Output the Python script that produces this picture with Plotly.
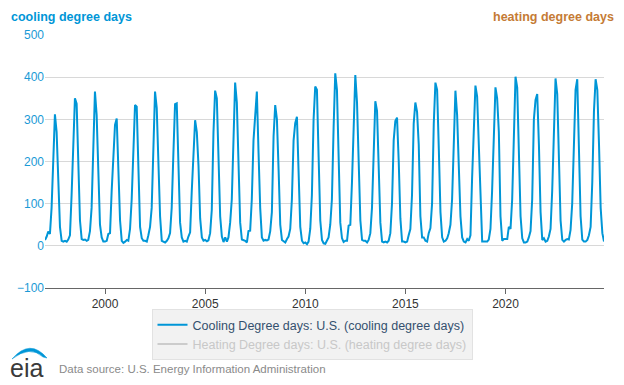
import pandas as pd
import plotly.graph_objects as go

# Monthly U.S. cooling degree days (Jan..Dec)
cdd_1997 = [14, 22, 34, 28, 90, 220, 312, 270, 150, 45, 12, 10]
cdd_1998 = [12, 10, 15, 25, 120, 250, 350, 337, 220, 60, 16, 14]
cdd_1999 = [15, 12, 14, 35, 90, 230, 366, 310, 170, 50, 20, 10]
cdd_2000 = [10, 12, 28, 30, 130, 230, 287, 302, 180, 60, 12, 7]
cdd_2001 = [10, 14, 12, 40, 110, 240, 334, 330, 160, 45, 18, 12]
cdd_2002 = [12, 10, 25, 45, 90, 260, 366, 327, 210, 70, 12, 9]
cdd_2003 = [8, 12, 18, 30, 90, 220, 336, 338, 170, 55, 20, 10]
cdd_2004 = [12, 10, 22, 32, 130, 230, 298, 270, 190, 65, 20, 12]
cdd_2005 = [14, 11, 13, 30, 85, 270, 368, 350, 230, 70, 22, 9]
cdd_2006 = [20, 10, 20, 55, 110, 260, 387, 340, 160, 55, 15, 14]
cdd_2007 = [12, 8, 35, 36, 110, 250, 320, 366, 220, 90, 20, 12]
cdd_2008 = [14, 13, 15, 35, 80, 260, 334, 300, 180, 50, 14, 10]
cdd_2009 = [8, 16, 22, 40, 110, 250, 291, 306, 170, 45, 12, 6]
cdd_2010 = [8, 4, 10, 40, 120, 300, 378, 370, 210, 60, 14, 6]
cdd_2011 = [5, 12, 20, 50, 110, 280, 409, 370, 190, 55, 18, 9]
cdd_2012 = [12, 12, 48, 50, 150, 270, 405, 340, 200, 60, 14, 12]
cdd_2013 = [12, 8, 14, 30, 90, 250, 343, 320, 210, 55, 10, 8]
cdd_2014 = [10, 8, 12, 30, 100, 250, 296, 304, 200, 65, 10, 10]
cdd_2015 = [8, 10, 25, 40, 120, 290, 340, 318, 240, 70, 20, 20]
cdd_2016 = [12, 10, 30, 42, 100, 290, 387, 370, 230, 80, 20, 10]
cdd_2017 = [12, 18, 30, 50, 110, 260, 368, 310, 200, 70, 20, 10]
cdd_2018 = [8, 16, 12, 25, 160, 300, 380, 354, 240, 80, 10, 10]
cdd_2019 = [10, 10, 15, 40, 130, 240, 376, 350, 270, 70, 12, 16]
cdd_2020 = [16, 16, 45, 40, 110, 270, 401, 375, 220, 70, 18, 8]
cdd_2021 = [8, 10, 20, 35, 110, 300, 346, 360, 240, 80, 14, 18]
cdd_2022 = [10, 12, 22, 40, 130, 300, 397, 360, 230, 60, 14, 10]
cdd_2023 = [14, 16, 15, 38, 100, 230, 370, 395, 260, 70, 15, 10]
cdd_2024 = [10, 14, 25, 45, 150, 320, 395, 370, 240, 90, 30, 10]

cooling_values = (cdd_1997 + cdd_1998 + cdd_1999 + cdd_2000 + cdd_2001 + cdd_2002 + cdd_2003
                  + cdd_2004 + cdd_2005 + cdd_2006 + cdd_2007 + cdd_2008 + cdd_2009 + cdd_2010
                  + cdd_2011 + cdd_2012 + cdd_2013 + cdd_2014 + cdd_2015 + cdd_2016 + cdd_2017
                  + cdd_2018 + cdd_2019 + cdd_2020 + cdd_2021 + cdd_2022 + cdd_2023 + cdd_2024)
months = pd.date_range("1997-01-01", periods=len(cooling_values), freq="MS")

x_tick_years = ["2000", "2005", "2010", "2015", "2020"]
y_tick_values = [-100, 0, 100, 200, 300, 400, 500]

W, H = 624, 385
L, R, T, B = 45, 20, 35, 97
PW, PH = W - L - R, H - T - B


def px(xp):
    return (xp - L) / PW


def py(yp):
    return (H - B - yp) / PH


BLUE = "#0096d7"
FONT = "Arial, Liberation Sans, sans-serif"

fig = go.Figure()
fig.add_trace(go.Scatter(
    x=months, y=cooling_values, mode="lines",
    line=dict(color=BLUE, width=2),
    name="Cooling Degree days: U.S. (cooling degree days)",
))
# heating series is switched off in the reference: only its legend entry shows
fig.add_trace(go.Scatter(
    x=[months[0]], y=[None], mode="lines",
    line=dict(color="#cccccc", width=2),
    name="<span style='color:#c8c8c8'>Heating Degree days: U.S. (heating degree days)</span>",
    hoverinfo="skip",
))

fig.update_layout(
    width=W, height=H,
    margin=dict(l=L, r=R, t=T, b=B),
    paper_bgcolor="white", plot_bgcolor="white",
    font=dict(family=FONT, size=12, color="#333333"),
    showlegend=True,
    legend=dict(
        x=px(312), xanchor="center", y=py(309), yanchor="top",
        bgcolor="#f2f2f2", bordercolor="#e2e2e2", borderwidth=1,
        font=dict(family=FONT, size=12.5, color="#34506e"),
        tracegroupgap=0, itemwidth=30,
    ),
    xaxis=dict(
        range=[months[0], months[-1]],
        tickvals=[pd.Timestamp(y + "-01-01") for y in x_tick_years],
        ticktext=x_tick_years,
        showgrid=False, zeroline=False,
        showline=True, linecolor="#666666", linewidth=1,
        ticks="outside", ticklen=5, tickcolor="#666666",
        tickfont=dict(family=FONT, size=12, color="#333333"),
    ),
    yaxis=dict(
        range=[-100, 500],
        tickvals=y_tick_values,
        showgrid=True, gridcolor="#d8d8d8", gridwidth=1.3,
        zeroline=False, showline=False, ticks="",
        tickfont=dict(family=FONT, size=12, color="#1a9ad6"),
    ),
)

fig.add_annotation(text="<b>cooling degree days</b>", xref="paper", yref="paper",
                   x=px(9), y=py(17), xanchor="left", yanchor="middle", showarrow=False,
                   font=dict(family=FONT, size=12.5, color=BLUE))
fig.add_annotation(text="<b>heating degree days</b>", xref="paper", yref="paper",
                   x=px(616), y=py(17), xanchor="right", yanchor="middle", showarrow=False,
                   font=dict(family=FONT, size=12.5, color="#c57b35"))
fig.add_annotation(text="Data source: U.S. Energy Information Administration", xref="paper", yref="paper",
                   x=px(57), y=py(369), xanchor="left", yanchor="middle", showarrow=False,
                   font=dict(family=FONT, size=11.5, color="#8a8a8a"))
fig.add_annotation(text="eia", xref="paper", yref="paper",
                   x=px(8), y=py(368), xanchor="left", yanchor="middle", showarrow=False,
                   font=dict(family=FONT, size=25, color="#3a3a3a"))
# eia logo swoosh
fig.add_shape(type="path", xref="paper", yref="paper",
              xsizemode="pixel", ysizemode="pixel",
              xanchor=px(0), yanchor=py(385),
              path="M12,26 Q30,47 47,27 L43,28 Q30,40 12,26 Z",
              fillcolor=BLUE, line=dict(color=BLUE, width=0.5))

fig.write_html("out.html", config={"displayModeBar": False},
               post_script="document.body.style.margin='0';")
